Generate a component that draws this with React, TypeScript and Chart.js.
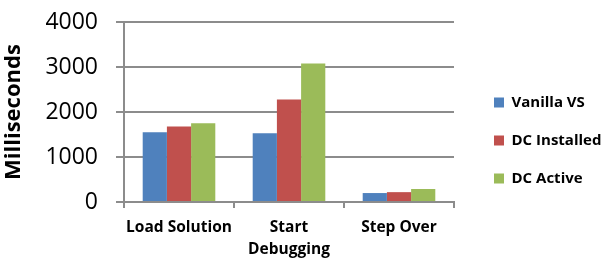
import React, { useEffect, useRef } from "react";
import { Chart, registerables } from "chart.js";

Chart.register(...registerables);

const categories: (string | string[])[] = ["Load Solution", ["Start", "Debugging"], "Step Over"];
const seriesNames = ["Vanilla VS", "DC Installed", "DC Active"];
const vanillaVS = [1550, 1530, 200];
const dcInstalled = [1680, 2280, 220];
const dcActive = [1750, 3080, 290];
const colors = ["#4F81BD", "#C0504D", "#9BBB59"];
const yMax = 4000;
const yStep = 1000;

const FONT = "'Open Sans', 'Noto Sans', sans-serif";

const legendGapPlugin = {
  id: "legendGap",
  afterInit(chart: any) {
    const leg = chart.legend;
    if (!leg) return;
    const origFit = leg.fit.bind(leg);
    leg.fit = function () {
      origFit();
      leg.width = 148;
    };
    const origDraw = leg.draw.bind(leg);
    leg.draw = function () {
      const ctx = chart.ctx;
      ctx.save();
      ctx.translate(17, 6);
      origDraw();
      ctx.restore();
    };
  },
};

export default function App() {
  const ref = useRef<HTMLCanvasElement>(null);
  useEffect(() => {
    if (!ref.current) return;
    const data = [vanillaVS, dcInstalled, dcActive];
    const chart = new Chart(ref.current, {
      type: "bar",
      data: {
        labels: categories,
        datasets: seriesNames.map((name, i) => ({
          label: name,
          data: data[i],
          backgroundColor: colors[i],
          borderWidth: 0,
          categoryPercentage: 0.66,
          barPercentage: 1.0,
        })),
      },
      options: {
        animation: false,
        responsive: true,
        maintainAspectRatio: false,
        layout: { padding: { top: 0, right: 0, left: 1, bottom: -10 } },
        plugins: {
          tooltip: { enabled: false },
          legend: {
            position: "right",
            labels: {
              boxWidth: 10,
              boxHeight: 10,
              padding: 23,
              color: "#000",
              font: { family: FONT, size: 15, weight: "bold" },
            },
          },
        },
        scales: {
          x: {
            grid: {
              offset: true,
              drawOnChartArea: false,
              drawTicks: true,
              tickLength: 6,
              color: "#8c8c8c",
              lineWidth: 2,
            },
            border: { color: "#8c8c8c", width: 2 },
            ticks: {
              color: "#000",
              padding: 8,
              maxRotation: 0,
              autoSkip: false,
              font: { family: FONT, size: 15.5, weight: "bold", lineHeight: 1.45 },
            },
          },
          y: {
            min: 0,
            max: yMax,
            afterFit: (scale: any) => {
              scale.paddingTop = 22;
            },
            grid: {
              color: "#8c8c8c",
              lineWidth: 2,
              tickLength: 8,
            },
            border: { color: "#8c8c8c", width: 2 },
            ticks: {
              stepSize: yStep,
              color: "#000",
              padding: 18,
              font: { family: FONT, size: 23 },
              callback: (v: any) => String(v),
            },
            title: {
              display: true,
              text: "Milliseconds",
              color: "#000",
              padding: { top: 0, bottom: 0 },
              font: { family: FONT, size: 22, weight: "bold" },
            },
          },
        },
      },
      plugins: [legendGapPlugin],
    } as any);
    return () => chart.destroy();
  }, []);
  return (
    <div style={{ position: "fixed", left: 0, top: 0, width: 602, height: 259, background: "#fff" }}>
      <canvas ref={ref} />
    </div>
  );
}
